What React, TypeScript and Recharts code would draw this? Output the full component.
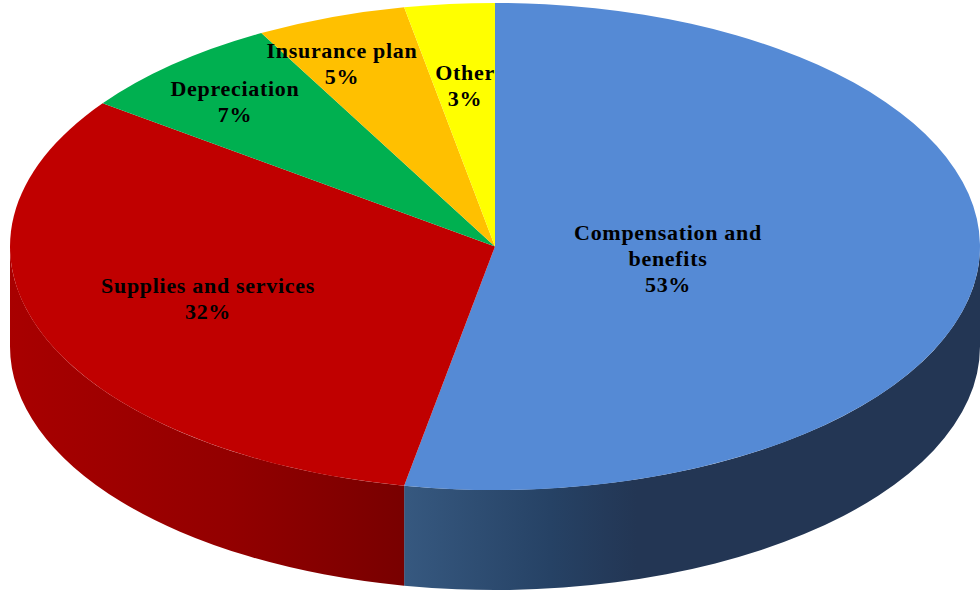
import { PieChart, Pie } from "recharts";

const CATEGORIES = [
  "Compensation and benefits",
  "Supplies and services",
  "Depreciation",
  "Insurance plan",
  "Other",
];
const SHARES = [53, 32, 7, 5, 3];
const TOP_COLORS = ["#558ad5", "#c00000", "#00b050", "#ffc000", "#ffff00"];
const WALL_FILLS = ["url(#wallBlue)", "url(#wallRed)", "none", "none", "none"];
const LABEL_LINES = [
  ["Compensation and", "benefits"],
  ["Supplies and services"],
  ["Depreciation"],
  ["Insurance plan"],
  ["Other"],
];

const WIDTH = 980;
const HEIGHT = 593;
const CX = 495;
const CY = 246.5;
const RX = 485;
const RY = 243.5;
const DEPTH = 100;
const LINE_HEIGHT = 26;

// first-line baseline of each slice label, relative to the pie centre
const LABEL_OFFSETS = [
  [173, -6.5],
  [-287, 46.5],
  [-260, -150.5],
  [-153, -188.5],
  [-30, -166.5],
];

const rows = CATEGORIES.map((name, i) => ({
  name,
  value: SHARES[i],
  fill: TOP_COLORS[i],
  wall: WALL_FILLS[i],
}));

const rad = (deg: number) => (deg * Math.PI) / 180;
const px = (deg: number) => CX + RX * Math.cos(rad(deg));
const py = (deg: number) => CY - RY * Math.sin(rad(deg));

// Recharts sectors are circular, so the angles it computes get redrawn on an ellipse
function TopFace({ startAngle, endAngle, fill }: any) {
  const large = Math.abs(endAngle - startAngle) > 180 ? 1 : 0;
  const d = `M${CX},${CY} L${px(startAngle)},${py(startAngle)} A${RX},${RY} 0 ${large} 1 ${px(endAngle)},${py(endAngle)} Z`;
  return <path d={d} fill={fill} stroke="none" />;
}

// Side wall: only the part of a slice's rim on the front half of the pie is visible
function Wall({ startAngle, endAngle, wall }: any) {
  const from = Math.min(startAngle, 0);
  const to = Math.max(endAngle, -180);
  if (from <= to || wall === "none") return null;
  const x0 = px(from);
  const y0 = py(from);
  const x1 = px(to);
  const y1 = py(to);
  const d = `M${x0},${y0} A${RX},${RY} 0 0 1 ${x1},${y1} L${x1},${y1 + DEPTH} A${RX},${RY} 0 0 0 ${x0},${y0 + DEPTH} Z`;
  return <path d={d} fill={wall} stroke="none" />;
}

function SliceLabel({ index }: any) {
  const [dx, dy] = LABEL_OFFSETS[index];
  const lines = [...LABEL_LINES[index], `${SHARES[index]}%`];
  return (
    <text
      x={CX + dx}
      y={CY + dy}
      textAnchor="middle"
      fontFamily="'Liberation Serif', serif"
      fontWeight="bold"
      fontSize={22}
      letterSpacing={0.7}
      fill="#000000"
    >
      {lines.map((line, i) => (
        <tspan key={line} x={CX + dx} y={CY + dy + i * LINE_HEIGHT}>
          {line}
        </tspan>
      ))}
    </text>
  );
}

export default function App() {
  return (
    <div style={{ position: "absolute", left: 0, top: 0, width: WIDTH, height: HEIGHT }}>
      <PieChart width={WIDTH} height={HEIGHT} margin={{ top: 0, right: 0, bottom: 0, left: 0 }}>
        <defs>
          <linearGradient id="wallRed" gradientUnits="userSpaceOnUse" x1={10} y1={0} x2={407} y2={0}>
            <stop offset="0%" stopColor="#a80000" />
            <stop offset="55%" stopColor="#930000" />
            <stop offset="100%" stopColor="#780000" />
          </linearGradient>
          <linearGradient id="wallBlue" gradientUnits="userSpaceOnUse" x1={407} y1={0} x2={980} y2={0}>
            <stop offset="0%" stopColor="#36587f" />
            <stop offset="25%" stopColor="#264265" />
            <stop offset="40%" stopColor="#233654" />
            <stop offset="100%" stopColor="#233654" />
          </linearGradient>
        </defs>
        <Pie
          data={rows}
          dataKey="value"
          nameKey="name"
          cx={CX}
          cy={CY}
          outerRadius={RX}
          startAngle={90}
          endAngle={-270}
          stroke="none"
          shape={Wall}
          isAnimationActive={false}
        />
        <Pie
          data={rows}
          dataKey="value"
          nameKey="name"
          cx={CX}
          cy={CY}
          outerRadius={RX}
          startAngle={90}
          endAngle={-270}
          stroke="none"
          shape={TopFace}
          label={SliceLabel}
          labelLine={false}
          isAnimationActive={false}
        />
      </PieChart>
    </div>
  );
}
